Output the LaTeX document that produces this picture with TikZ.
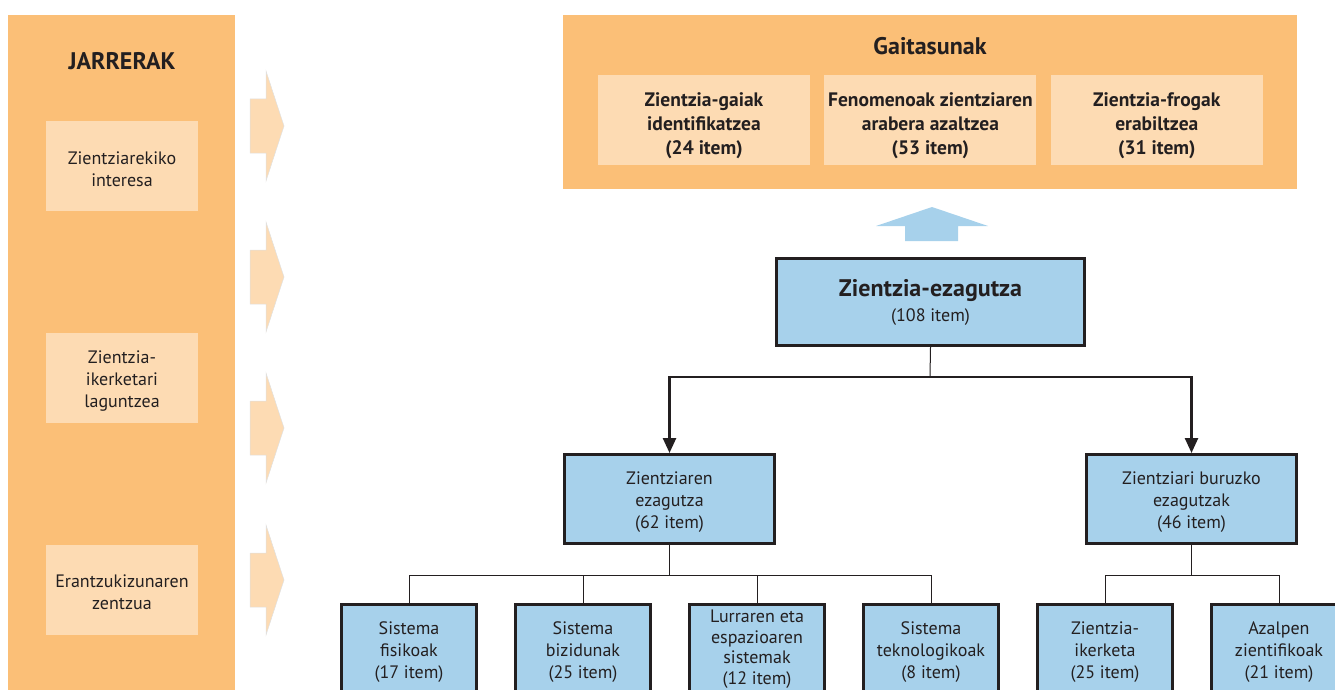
\documentclass[tikz,border=0pt]{standalone}
\usepackage{fontspec}
\setmainfont{PT Sans}
\usepackage{xcolor}
\usepackage{tikz}
\usetikzlibrary{arrows.meta,positioning,calc}
\definecolor{jarOrange}{HTML}{FBBF77}
\definecolor{jarPeach}{HTML}{FDDBB3}
\definecolor{ezBlue}{HTML}{A7D1EB}
\definecolor{ink}{HTML}{231F20}
\newcommand{\txt}{\fontsize{18}{22}\selectfont}
\newcommand{\btxt}{\bfseries\fontsize{19.5}{24}\selectfont}
\newcommand{\lift}[1]{\rule{0pt}{#1pt}}

\begin{document}
\begin{tikzpicture}[
  x=1pt, y=-1pt,
  >=Stealth,
  panel/.style={fill=jarOrange, inner sep=0pt, anchor=north west},
  title/.style={font=\bfseries\fontsize{24}{27}\selectfont, text=ink},
  soft/.style={fill=jarPeach, inner sep=0pt, minimum width=152pt,
               minimum height=90pt, align=center, font=\txt, text=ink},
  skill/.style={fill=jarPeach, inner sep=0pt, minimum width=212pt,
                minimum height=90pt, align=center, font=\btxt, text=ink},
  chevron/.style={fill=jarPeach, draw=black!12, line width=0.5pt},
  know/.style={draw=ink, fill=ezBlue, line width=3pt, inner sep=0pt,
               align=center, font=\txt, text=ink},
  mid/.style={know, minimum width=210pt, minimum height=89pt},
  leaf/.style={mid, minimum width=135pt},
  stem/.style={draw=ink, line width=1pt},
  branch/.style={draw=ink, line width=2.5pt, -{Triangle[length=15pt,width=13pt]}},
]
\useasboundingbox (0,0) rectangle (1335,690);
\clip (0,0) rectangle (1335,690);

% Jarrerak column
\node[panel, minimum width=227pt, minimum height=700pt] (jar) at (8,15) {};
\node[title] (jartitle) at (122,61) {JARRERAK};
\node[soft] (interes) at (122,166) {\lift{19}Zientziarekiko\\interesa};
\node[soft] (laguntza) at (122,378) {\lift{19}Zientzia-\\ikerketari\\laguntzea};
\node[soft] (erantz) at (122,589.5) {\lift{19}Erantzukizunaren\\zentzua};

% Chevrons
\foreach \y in {126,277,428,580}
  \draw[chevron] (250,{\y-27}) -- (266,{\y-27}) -- (266,{\y-55}) -- (284,\y)
    -- (266,{\y+55}) -- (266,{\y+27}) -- (250,{\y+27}) -- cycle;

% Gaitasunak
\node[panel, minimum width=734pt, minimum height=174pt] (gait) at (563,15) {};
\node[title] (gaittitle) at (930,46) {Gaitasunak};
\node[skill] (gai1) at (704,120) {\lift{25}Zientzia-gaiak\\identifikatzea\\(24 item)};
\node[skill, right=14pt of gai1] (gai2) {\lift{25}Fenomenoak zientziaren\\arabera azaltzea\\(53 item)};
\node[skill, right=14pt of gai2] (gai3) {\lift{25}Zientzia-frogak\\erabiltzea\\(31 item)};

% Up arrow
\fill[ezBlue] (905,241) -- (905,226) -- (876,226) -- (932,207) -- (988,226)
  -- (958,226) -- (958,241) -- cycle;

% Zientzia-ezagutza
\node[know, minimum width=308pt, minimum height=87pt] (ez) at (930.5,302)
  {{\bfseries\fontsize{24}{27}\selectfont Zientzia-ezagutza}\\[3pt](108 item)};

\node[mid] (kz) at (669.5,499) {\lift{19}Zientziaren\\ezagutza\\(62 item)};
\node[mid] (kb) at (1191.5,499) {\lift{19}Zientziari buruzko\\ezagutzak\\(46 item)};

\coordinate (split) at (930,377);
\draw[stem] (ez.south) -- (split);
\draw[branch] (split) -| (kz.north);
\draw[branch] (split) -| (kb.north);

% Leaves
\node[leaf] (b1) at (409,649) {\lift{19}Sistema\\fisikoak\\(17 item)};
\node[leaf, right=36pt of b1] (b2) {\lift{19}Sistema\\bizidunak\\(25 item)};
\node[leaf, right=36pt of b2, font=\fontsize{18}{20.5}\selectfont] (b3)
  {Lurraren eta\\espazioaren\\sistemak\\(12 item)};
\node[leaf, right=36pt of b3] (b4) {\lift{19}Sistema\\teknologikoak\\(8 item)};
\node[leaf] (b5) at (1105,649) {\lift{19}Zientzia-\\ikerketa\\(25 item)};
\node[leaf, right=36pt of b5] (b6) {\lift{19}Azalpen\\zientifikoak\\(21 item)};

\foreach \b in {b1,b2,b3,b4}
  \draw[stem] (kz.south) -- ++(0,30) -| (\b.north);
\foreach \b in {b5,b6}
  \draw[stem] (kb.south) -- ++(0,30) -| (\b.north);
\end{tikzpicture}
\end{document}
